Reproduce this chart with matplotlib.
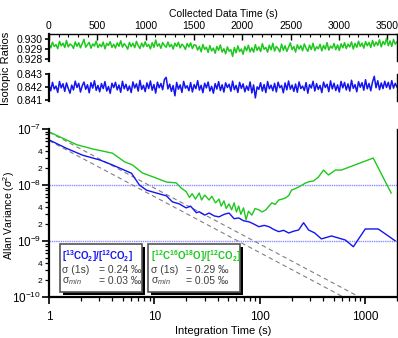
import numpy as np
import matplotlib
matplotlib.use("Agg")
import matplotlib.pyplot as plt
from matplotlib.ticker import FixedLocator, FuncFormatter, LogLocator, NullFormatter
from matplotlib.patches import Rectangle

plt.rcParams['font.family'] = ['Liberation Sans', 'DejaVu Sans']
plt.rcParams['mathtext.fontset'] = 'custom'
plt.rcParams['mathtext.rm'] = 'Liberation Sans'
plt.rcParams['mathtext.it'] = 'Liberation Sans:italic'
plt.rcParams['mathtext.bf'] = 'Liberation Sans:bold'
plt.rcParams['font.size'] = 7.5

VERDE = '#1ec81e'
AZUL = '#1414f0'

# Serie temporal das razoes isotopicas (lida a olho, 0..3600 s)
razao_626_628 = [
    0.92952, 0.92911, 0.92968, 0.92925, 0.92944, 0.92903, 0.92977, 0.92932, 0.92958, 0.92915,
    0.92985, 0.92921, 0.92949, 0.92938, 0.92906, 0.92971, 0.92927, 0.92962, 0.92912, 0.92955,
    0.92996, 0.92918, 0.92943, 0.92966, 0.92908, 0.92951, 0.92929, 0.92979, 0.92914, 0.92947,
    0.92923, 0.92969, 0.92902, 0.92956, 0.92935, 0.92973, 0.92916, 0.92948, 0.92909, 0.92961,
    0.92927, 0.92982, 0.92919, 0.92953, 0.92931, 0.92898, 0.92965, 0.92924, 0.92957, 0.92913,
    0.92976, 0.92934, 0.92905, 0.92959, 0.92921, 0.92972, 0.92926, 0.92946, 0.92901, 0.92963,
    0.92917, 0.92989, 0.92928, 0.92952, 0.92907, 0.92964, 0.92936, 0.92918, 0.92970, 0.92922,
    0.92945, 0.92899, 0.92958, 0.92926, 0.92967, 0.92911, 0.92948, 0.92930, 0.92896, 0.92955,
    0.92920, 0.92961, 0.92904, 0.92943,
    0.92938, 0.92889, 0.92927, 0.92872, 0.92945, 0.92896, 0.92918, 0.92866, 0.92934, 0.92881,
    0.92909, 0.92858, 0.92926, 0.92887, 0.92941, 0.92869, 0.92903, 0.92852, 0.92921, 0.92878,
    0.92893, 0.92826, 0.92915, 0.92862, 0.92931, 0.92875, 0.92899, 0.92848, 0.92924, 0.92883,
    0.92937, 0.92871, 0.92912, 0.92868,
    0.92944, 0.92886, 0.92921, 0.92874, 0.92953, 0.92897, 0.92915, 0.92868, 0.92938, 0.92892,
    0.92957, 0.92879, 0.92926, 0.92905, 0.92871, 0.92949, 0.92888, 0.92932, 0.92876, 0.92918,
    0.92961, 0.92894, 0.92925, 0.92869, 0.92942, 0.92899, 0.92934, 0.92882, 0.92951, 0.92907,
    0.92877, 0.92939, 0.92895, 0.92958, 0.92884, 0.92923, 0.92902, 0.92947, 0.92881, 0.92936,
    0.92898, 0.92964, 0.92889, 0.92929, 0.92908, 0.92955, 0.92893, 0.92941, 0.92886, 0.92952,
    0.92912, 0.92963, 0.92904, 0.92948, 0.92921, 0.92971, 0.92899, 0.92956, 0.92917, 0.92978,
    0.92926, 0.92959, 0.92908, 0.92974, 0.92932, 0.92966, 0.92915, 0.92985, 0.92928, 0.92969,
    0.92937, 0.92992, 0.92921, 0.92976, 0.92944, 0.93008, 0.92933, 0.92981, 0.92926, 0.92995,
    0.92948, 0.92972,
]
razao_636_626 = [
    0.84218, 0.84171, 0.84236, 0.84184, 0.84207, 0.84158, 0.84242, 0.84193, 0.84225, 0.84166,
    0.84231, 0.84189, 0.84152, 0.84214, 0.84177, 0.84245, 0.84196, 0.84228, 0.84161, 0.84209,
    0.84238, 0.84182, 0.84217, 0.84155, 0.84233, 0.84191, 0.84248, 0.84174, 0.84212, 0.84163,
    0.84226, 0.84187, 0.84241, 0.84169, 0.84203, 0.84151, 0.84229, 0.84195, 0.84236, 0.84178,
    0.84215, 0.84159, 0.84244, 0.84186, 0.84221, 0.84172, 0.84208, 0.84157, 0.84239, 0.84192,
    0.84224, 0.84168, 0.84251, 0.84181, 0.84213, 0.84164, 0.84232, 0.84188, 0.84246, 0.84175,
    0.84219, 0.84153, 0.84237, 0.84194, 0.84227, 0.84179, 0.84258, 0.84274, 0.84185, 0.84222,
    0.84166, 0.84211, 0.84132, 0.84235, 0.84183, 0.84216, 0.84158, 0.84243, 0.84191, 0.84209,
    0.84171, 0.84234, 0.84162, 0.84218, 0.84187, 0.84249, 0.84176, 0.84213, 0.84156, 0.84229,
    0.84193, 0.84238, 0.84169, 0.84205, 0.84152, 0.84226, 0.84184, 0.84241, 0.84173, 0.84217,
    0.84161, 0.84232, 0.84196, 0.84221, 0.84167, 0.84245, 0.84179, 0.84212, 0.84158, 0.84236,
    0.84189, 0.84224, 0.84163, 0.84208, 0.84174, 0.84239, 0.84154, 0.84216, 0.84116, 0.84201,
    0.84182, 0.84233, 0.84168, 0.84219, 0.84157, 0.84242, 0.84186, 0.84214, 0.84171, 0.84228,
    0.84162, 0.84237, 0.84194, 0.84211, 0.84155, 0.84231, 0.84178, 0.84246, 0.84183, 0.84215,
    0.84166, 0.84223, 0.84159, 0.84239, 0.84188, 0.84207, 0.84173, 0.84234, 0.84152, 0.84218,
    0.84192, 0.84244, 0.84169, 0.84226, 0.84181, 0.84212, 0.84157, 0.84238, 0.84196, 0.84221,
    0.84164, 0.84247, 0.84185, 0.84229, 0.84172, 0.84216, 0.84161, 0.84243, 0.84193, 0.84235,
    0.84177, 0.84224, 0.84168, 0.84252, 0.84189, 0.84218, 0.84163, 0.84241, 0.84198, 0.84233,
    0.84175, 0.84256, 0.84186, 0.84227, 0.84171, 0.84239, 0.84282, 0.84194, 0.84248, 0.84179,
    0.84231, 0.84187, 0.84244, 0.84196, 0.84236, 0.84183, 0.84249, 0.84191, 0.84228, 0.84199,
]
tempo_total = 3600

# Variancia de Allan
tau_verde = [1, 1.83, 2.6, 4.0, 5.2, 6.2, 7.7, 10.4, 13, 16.1,
             18, 20, 21.5, 22.8, 24.5, 26.6, 28, 30, 33, 35,
             38, 41, 43, 45.7, 48, 51, 54, 57, 60, 63,
             66, 70, 74, 78, 84, 90, 98, 105, 114, 122,
             130, 140, 151, 163, 176, 188, 200, 216, 233, 252,
             272, 297, 323, 360, 402, 448, 521, 594, 1190, 1760]
var_verde = [8.9e-8, 5.25e-8, 4.4e-8, 3.7e-8, 2.6e-8, 2.28e-8, 1.64e-8, 1.33e-8, 1.13e-8, 1.09e-8,
             8.8e-9, 7.6e-9, 6.0e-9, 7.0e-9, 5.6e-9, 7.2e-9, 5.4e-9, 6.6e-9, 5.4e-9, 6.3e-9,
             4.8e-9, 5.6e-9, 4.2e-9, 5.2e-9, 3.8e-9, 4.6e-9, 3.6e-9, 4.8e-9, 3.3e-9, 4.2e-9,
             3.0e-9, 3.9e-9, 2.4e-9, 3.4e-9, 2.9e-9, 3.8e-9, 3.6e-9, 3.3e-9, 3.6e-9, 4.2e-9,
             4.8e-9, 4.5e-9, 5.4e-9, 5.6e-9, 5.9e-9, 6.5e-9, 8.1e-9, 8.6e-9, 9.2e-9, 1.0e-8,
             1.09e-8, 1.15e-8, 1.18e-8, 1.39e-8, 1.85e-8, 1.51e-8, 1.85e-8, 1.85e-8, 3.03e-8, 7.2e-9]
tau_azul = [1, 1.47, 2.09, 3.03, 4.0, 6.06, 7.2, 8.4, 10.4, 13,
            14.8, 17.2, 20, 22, 25, 26.6, 30, 33, 37, 41,
            46, 51, 57, 63, 70, 79, 88, 98, 110, 122,
            136, 151, 168, 188, 210, 233, 260, 290, 330, 384,
            478, 648, 771, 1000, 1327, 1920]
var_azul = [6.4e-8, 4.5e-8, 3.4e-8, 2.8e-8, 2.28e-8, 1.62e-8, 1.0e-8, 8.1e-9, 7.2e-9, 6.4e-9,
            5.0e-9, 4.6e-9, 3.9e-9, 4.2e-9, 3.2e-9, 3.33e-9, 2.9e-9, 3.16e-9, 2.8e-9, 2.7e-9,
            3.0e-9, 3.16e-9, 2.5e-9, 2.58e-9, 2.3e-9, 2.2e-9, 2.0e-9, 1.8e-9, 1.9e-9, 1.8e-9,
            1.6e-9, 1.47e-9, 1.55e-9, 1.39e-9, 1.5e-9, 1.57e-9, 2.12e-9, 1.57e-9, 1.4e-9, 1.09e-9,
            1.23e-9, 1.04e-9, 7.9e-10, 1.64e-9, 1.64e-9, 1.01e-9]

# retas de ruido branco (sigma^2(1s)/tau) e niveis minimos
ruido_branco = [8.8e-8, 6.2e-8]
tau_reta = [1, 2000]
niveis = [1e-8, 1e-9]

legenda = [
    (r'$\mathbf{[^{13}CO_2]/[^{12}CO_2]}$', AZUL, '= 0.24 ‰', '= 0.03 ‰'),
    (r'$\mathbf{[^{12}C^{16}O^{18}O]/[^{12}CO_2]}$', VERDE, '= 0.29 ‰', '= 0.05 ‰'),
]

fig = plt.figure(figsize=(3.98, 3.38), dpi=100)
W, H = 398.0, 338.0

def eixo(x0, y0, x1, y1):
    # recebe coordenadas em pixels (origem no topo)
    return fig.add_axes([x0 / W, 1 - y1 / H, (x1 - x0) / W, (y1 - y0) / H])

axg = eixo(49, 34, 397, 61)
axb = eixo(49, 74, 397, 101)
axa = eixo(49, 129, 397, 297)

# painel verde
t = np.linspace(0, tempo_total, len(razao_626_628))
axg.plot(t, razao_626_628, color=VERDE, lw=1.1)
axg.set_xlim(0, tempo_total)
axg.set_ylim(0.9278, 0.9305)
axg.spines['bottom'].set_visible(False)
axg.spines['left'].set_linewidth(1.6)
axg.spines['top'].set_linewidth(1.0)
axg.spines['right'].set_linewidth(1.0)
axg.xaxis.set_ticks_position('top')
axg.xaxis.set_label_position('top')
axg.set_xticks(np.arange(0, 3501, 500))
axg.set_xticks(np.arange(0, 3601, 100), minor=True)
axg.tick_params(axis='x', which='major', direction='in', length=4, width=1, pad=2)
axg.tick_params(axis='x', which='minor', direction='in', length=2, width=0.8)
axg.set_xlabel('Collected Data Time (s)', fontsize=7.5, labelpad=3)
axg.set_yticks([0.928, 0.929, 0.930])
axg.set_yticklabels(['0.928', '0.929', '0.930'])
axg.tick_params(axis='y', direction='out', length=3, width=1.2, pad=1.5)

# painel azul
t = np.linspace(0, tempo_total, len(razao_636_626))
axb.plot(t, razao_636_626, color=AZUL, lw=1.1)
axb.set_xlim(0, tempo_total)
axb.set_ylim(0.84092, 0.8430)
axb.spines['bottom'].set_visible(False)
axb.spines['top'].set_visible(False)
axb.spines['left'].set_linewidth(1.6)
axb.spines['right'].set_linewidth(1.0)
axb.set_xticks([])
axb.set_yticks([0.841, 0.842, 0.843])
axb.set_yticklabels(['0.841', '0.842', '0.843'])
axb.tick_params(axis='y', direction='out', length=3, width=1.2, pad=1.5)

fig.text(6 / W, 1 - 68 / H, 'Isotopic Ratios', rotation=90, ha='center', va='center', fontsize=8)

# variancia de Allan
for nv in niveis:
    axa.axhline(nv, color='#8c8cff', lw=1.0, ls=(0, (1, 0.6)))
for v0 in ruido_branco:
    axa.plot(tau_reta, [v0 / tt for tt in tau_reta], color='#808080', lw=0.8, ls=(0, (4, 3)))
axa.plot(tau_verde, var_verde, color=VERDE, lw=1.0)
axa.plot(tau_azul, var_azul, color=AZUL, lw=1.0)
axa.set_xscale('log')
axa.set_yscale('log')
axa.set_xlim(1, 2000)
axa.set_ylim(1e-10, 1e-7)
axa.spines['top'].set_visible(False)
axa.spines['left'].set_linewidth(1.6)
axa.spines['bottom'].set_linewidth(1.6)
axa.spines['right'].set_linewidth(1.0)

axa.xaxis.set_major_locator(FixedLocator([1, 10, 100, 1000]))
axa.xaxis.set_major_formatter(FuncFormatter(lambda v, p: '%d' % round(v)))
axa.xaxis.set_minor_locator(LogLocator(base=10, subs=np.arange(2, 10)))
axa.xaxis.set_minor_formatter(NullFormatter())
axa.tick_params(axis='x', which='major', direction='out', length=5, width=1.2, labelsize=8.5, pad=5)
axa.tick_params(axis='x', which='minor', direction='out', length=3, width=0.9)

axa.yaxis.set_major_locator(FixedLocator([1e-10, 1e-9, 1e-8, 1e-7]))
axa.yaxis.set_major_formatter(FuncFormatter(lambda v, p: r'$10^{%d}$' % round(np.log10(v))))
axa.yaxis.set_minor_locator(LogLocator(base=10, subs=np.arange(2, 10)))

def rotulo_menor(v, p):
    m = v / 10 ** np.floor(np.log10(v) + 1e-9)
    if abs(m - 2) < 0.01 or abs(m - 4) < 0.01:
        return '%d' % round(m)
    return ''

axa.yaxis.set_minor_formatter(FuncFormatter(rotulo_menor))
axa.tick_params(axis='y', which='major', direction='out', length=5, width=1.2, labelsize=8.5, pad=0.5)
axa.tick_params(axis='y', which='minor', direction='out', length=3, width=0.9, labelsize=6, pad=2)
axa.set_xlabel('Integration Time (s)', fontsize=8, labelpad=2)
fig.text(9 / W, 1 - 215 / H, r'Allan Variance ($\sigma^2$)', rotation=90, ha='center', va='center', fontsize=7.5)

# caixas de legenda
caixas = [(0.032, 0.236, 0.038, 0.144), (0.284, 0.264, 0.293, 0.394)]
for (x0, largura, xt, xv), (titulo, cor, s1, smin) in zip(caixas, legenda):
    axa.add_patch(Rectangle((x0 + 0.009, 0.012), largura, 0.285, transform=axa.transAxes,
                            facecolor='black', edgecolor='black', lw=0, zorder=5, clip_on=False))
    axa.add_patch(Rectangle((x0, 0.030), largura, 0.285, transform=axa.transAxes,
                            facecolor='white', edgecolor='#555555', lw=1.2, zorder=6, clip_on=False))
    axa.text(xt, 0.245, titulo, color=cor, transform=axa.transAxes, fontsize=7,
             va='center', ha='left', zorder=7)
    axa.text(xt, 0.160, 'σ (1s)', color='#404040', transform=axa.transAxes, fontsize=7.5,
             va='center', ha='left', zorder=7)
    axa.text(xv, 0.160, s1, color='#404040', transform=axa.transAxes, fontsize=7.5,
             va='center', ha='left', zorder=7)
    axa.text(xt, 0.095, r'σ$_{\it min}$', color='#404040', transform=axa.transAxes, fontsize=7.5,
             va='center', ha='left', zorder=7)
    axa.text(xv, 0.095, smin, color='#404040', transform=axa.transAxes, fontsize=7.5,
             va='center', ha='left', zorder=7)

fig.savefig('out.png', dpi=100)
